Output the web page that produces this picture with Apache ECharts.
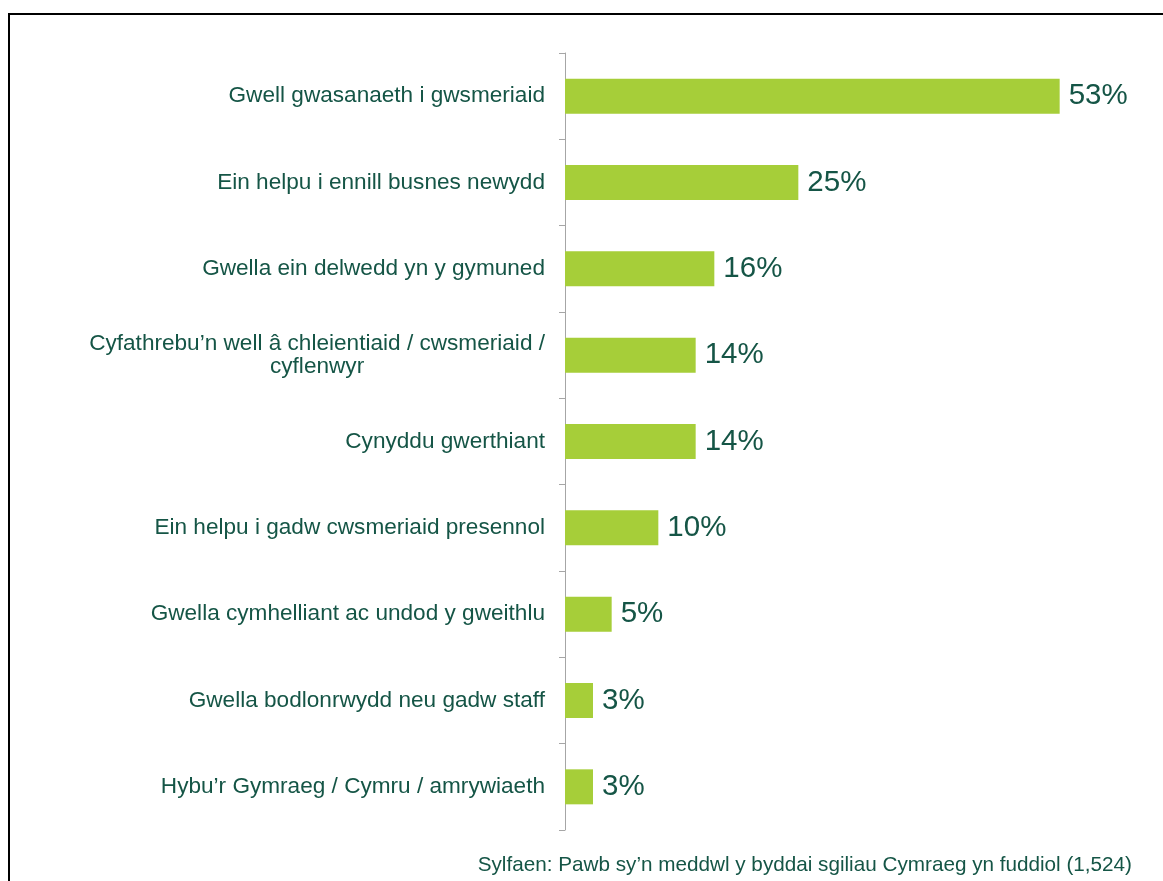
<!DOCTYPE html>
<html>
<head>
<meta charset="utf-8">
<script src="https://cdn.jsdelivr.net/npm/echarts@6/dist/echarts.min.js"></script>
<style>
  html, body { margin: 0; padding: 0; background: #fff; }
  #main { width: 1163px; height: 881px; }
</style>
</head>
<body>
<div id="main"></div>
<script>
let categories = [
    'Gwell gwasanaeth i gwsmeriaid',
    'Ein helpu i ennill busnes newydd',
    'Gwella ein delwedd yn y gymuned',
    'Cyfathrebu’n well â chleientiaid / cwsmeriaid /\ncyflenwyr',
    'Cynyddu gwerthiant',
    'Ein helpu i gadw cwsmeriaid presennol',
    'Gwella cymhelliant ac undod y gweithlu',
    'Gwella bodlonrwydd neu gadw staff',
    'Hybu’r Gymraeg / Cymru / amrywiaeth'
];
let values = [53, 25, 16, 14, 14, 10, 5, 3, 3];
let footnote = 'Sylfaen: Pawb sy’n meddwl y byddai sgiliau Cymraeg yn fuddiol (1,524)';

const font = 'Arial, "Liberation Sans", sans-serif';
const textColor = '#155546';

let chart = echarts.init(document.getElementById('main'));

chart.setOption({
    backgroundColor: '#fff',
    animation: false,
    title: {
        text: footnote,
        right: 26,
        top: 850,
        textStyle: {
            fontFamily: font,
            fontSize: 20.7,
            fontWeight: 'normal',
            color: textColor
        }
    },
    graphic: [{
        type: 'polyline',
        shape: { points: [[9, 881], [9, 14], [1163, 14]] },
        style: { stroke: '#000', lineWidth: 2, fill: null }
    }],
    grid: {
        left: 565,
        top: 53,
        height: 777,
        right: 38
    },
    xAxis: {
        type: 'value',
        min: 0,
        max: 60,
        show: false
    },
    yAxis: {
        type: 'category',
        inverse: true,
        data: categories,
        axisLine: { show: true, lineStyle: { color: '#a6a6a6', width: 1 } },
        axisTick: { show: true, length: 6, lineStyle: { color: '#a6a6a6' } },
        axisLabel: {
            margin: 20,
            fontFamily: font,
            fontSize: 22.6,
            color: textColor,
            lineHeight: 23,
            formatter: function (v) {
                // wrapped label lines are centred within the block
                return v.split('\n').map(function (l) { return '{c|' + l + '}'; }).join('\n');
            },
            rich: {
                c: {
                    fontFamily: font,
                    fontSize: 22.6,
                    color: textColor,
                    lineHeight: 23,
                    align: 'center'
                }
            }
        }
    },
    series: [{
        type: 'bar',
        data: values,
        barWidth: 35,
        itemStyle: { color: '#a6ce39' },
        label: {
            show: true,
            position: 'right',
            distance: 9,
            formatter: '{c}%',
            fontFamily: font,
            fontSize: 29.5,
            color: textColor
        }
    }]
});
</script>
</body>
</html>
